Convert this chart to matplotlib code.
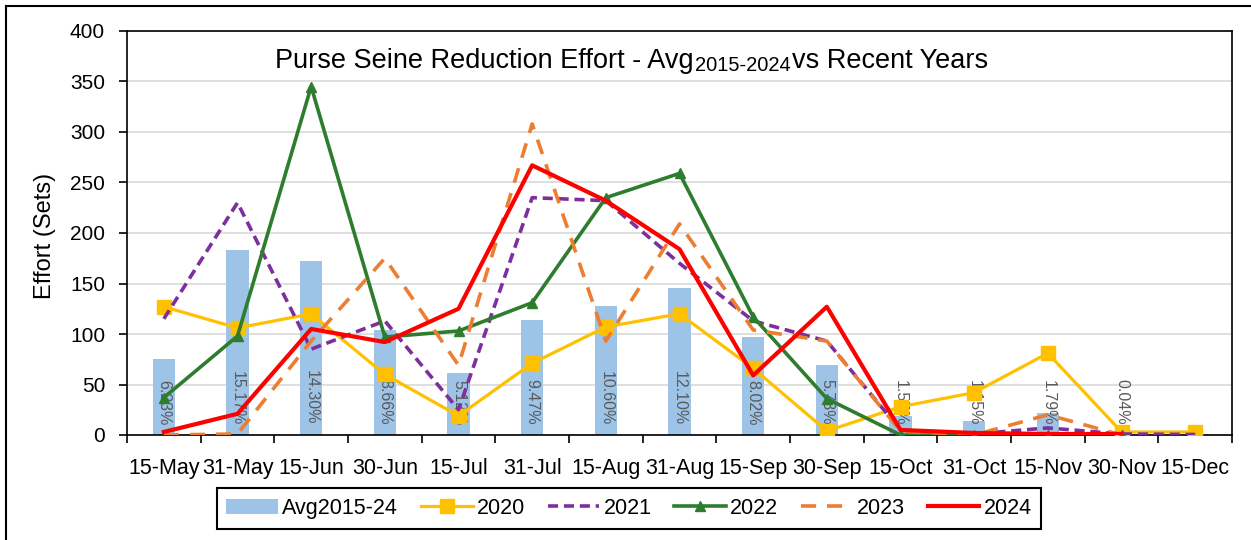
import numpy as np
import matplotlib
matplotlib.use("Agg")
import matplotlib.pyplot as plt
from matplotlib.lines import Line2D
from matplotlib.patches import Patch

plt.rcParams['font.family'] = ['Liberation Sans', 'DejaVu Sans']

# ---- data -------------------------------------------------------------
periods = ['15-May', '31-May', '15-Jun', '30-Jun', '15-Jul', '31-Jul', '15-Aug',
           '31-Aug', '15-Sep', '30-Sep', '15-Oct', '31-Oct', '15-Nov', '30-Nov',
           '15-Dec']
nan = np.nan
avg_2015_24 = [75.1, 182.8, 172.3, 104.4, 61.7, 114.1, 127.7, 145.8, 96.6, 69.6,
               18.9, 13.9, 21.6, 0.5, nan]
sets_2020 = [127, 106, 120, 60, 19, 71, 107, 120, 66, 4, 28, 42, 81, 3, 3]
sets_2021 = [115, 230, 85, 113, 25, 235, 232, 170, 113, 93, 5, 1, 7, 1, 0.5]
sets_2022 = [37, 98, 345, 97, 103, 131, 235, 259, 117, 36, 0, 0, 0, 0, nan]
sets_2023 = [0, 1, 93, 175, 69, 308, 93, 209, 104, 93, 4, 0, 20, 0, nan]
sets_2024 = [3, 21, 105, 92, 125, 267, 232, 184, 59, 127, 5, 2, 1, 1, nan]
y_ticks = [0, 50, 100, 150, 200, 250, 300, 350, 400]

C_AVG = '#9DC3E6'
C_2020 = '#FFC000'
C_2021 = '#7E2F9E'
C_2022 = '#2E7D2E'
C_2023 = '#ED7D31'
C_2024 = '#FF0000'

W, H = 1251, 540
fig = plt.figure(figsize=(W / 100, H / 100), dpi=100)
fig.patch.set_facecolor('white')

def fx(px):
    return px / W

def fy(py):
    return 1 - py / H

ax = fig.add_axes([fx(127), fy(435), fx(1232) - fx(127), fy(31) - fy(435)])

x = np.arange(len(periods))
avg = np.array(avg_2015_24, dtype=float)

# average bars with share-of-season labels
ax.bar(x, avg, width=0.3, color=C_AVG, zorder=1, label='Avg2015-24')
total = np.nansum(avg)
for xi, v in zip(x, avg):
    if np.isnan(v):
        continue
    ax.annotate(f"{v / total * 100:.2f}%", xy=(xi, 0), xytext=(0, 10),
                textcoords='offset pixels', rotation=270, ha='center',
                va='bottom', fontsize=11.5, color='#595959', zorder=2)

# yearly series
ax.plot(x, sets_2020, color=C_2020, lw=2.3, marker='s', ms=9.5,
        zorder=3, label='2020')
ax.plot(x, sets_2021, color=C_2021, lw=2.6, dashes=(2.8, 1.6),
        zorder=4, label='2021')
ax.plot(x, sets_2022, color=C_2022, lw=2.6, marker='^', ms=7,
        zorder=5, label='2022')
ax.plot(x, sets_2023, color=C_2023, lw=2.6, dashes=(4.2, 3.0),
        zorder=6, label='2023')
ax.plot(x, sets_2024, color=C_2024, lw=3.0, zorder=7, label='2024')

# axes styling
ax.set_xlim(-0.5, len(periods) - 0.5)
ax.set_ylim(0, 400)
ax.set_yticks(y_ticks)
ax.set_xticks(x)
ax.set_xticklabels(periods)
ax.set_xticks(np.arange(-0.5, len(periods)), minor=True)
ax.tick_params(axis='x', which='major', length=0, pad=16.5, labelsize=15.5)
ax.tick_params(axis='x', which='minor', length=5.8, width=1.2, direction='out')
ax.tick_params(axis='y', length=5.8, width=1.2, direction='out', pad=10,
               labelsize=15)
ax.grid(axis='y', color='#D9D9D9', lw=1.2, zorder=0)
ax.set_axisbelow(True)
for s in ax.spines.values():
    s.set_color('black')
    s.set_linewidth(1.2)

# y label
fig.text(fx(45), fy(236), 'Effort (Sets)', rotation=90, ha='center',
         va='center', fontsize=17)

# title with subscript years
t1 = fig.text(fx(275), fy(68), 'Purse Seine Reduction Effort - Avg',
              fontsize=19.5, va='baseline', ha='left')
t2 = ax.annotate('2015-2024', xy=(1, 0), xycoords=t1, xytext=(1, 3),
                 textcoords='offset pixels', fontsize=14.5, va='baseline',
                 ha='left', annotation_clip=False)
t3 = ax.annotate('vs Recent Years', xy=(1, 0), xycoords=(t2, t1),
                 xytext=(2, 0), textcoords='offset pixels', fontsize=19.5,
                 va='bottom', ha='left', annotation_clip=False)

# legend
handles = [
    Patch(facecolor=C_AVG, edgecolor='none', label='Avg2015-24'),
    Line2D([], [], color=C_2020, lw=2.3, marker='s', ms=9.5, label='2020'),
    Line2D([], [], color=C_2021, lw=2.6, dashes=(2.8, 1.6), label='2021'),
    Line2D([], [], color=C_2022, lw=2.6, marker='^', ms=7, label='2022'),
    Line2D([], [], color=C_2023, lw=2.6, dashes=(4.2, 3.0), label='2023'),
    Line2D([], [], color=C_2024, lw=3.0, label='2024'),
]
leg = fig.legend(handles=handles, loc='center',
                 bbox_to_anchor=(fx(629), fy(508.5)), ncol=6, fontsize=15.5,
                 frameon=True, fancybox=False, framealpha=1, edgecolor='black',
                 handlelength=2.4, handletextpad=0.2, columnspacing=1.05,
                 borderpad=0.45)
leg.get_frame().set_linewidth(1.5)

# outer chart frame
fig.add_artist(Line2D([fx(6), 1], [fy(6), fy(6)], color='black', lw=1.5,
                      transform=fig.transFigure))
fig.add_artist(Line2D([fx(6), fx(6)], [0, fy(6)], color='black', lw=1.5,
                      transform=fig.transFigure))

fig.savefig('out.png', dpi=100)
